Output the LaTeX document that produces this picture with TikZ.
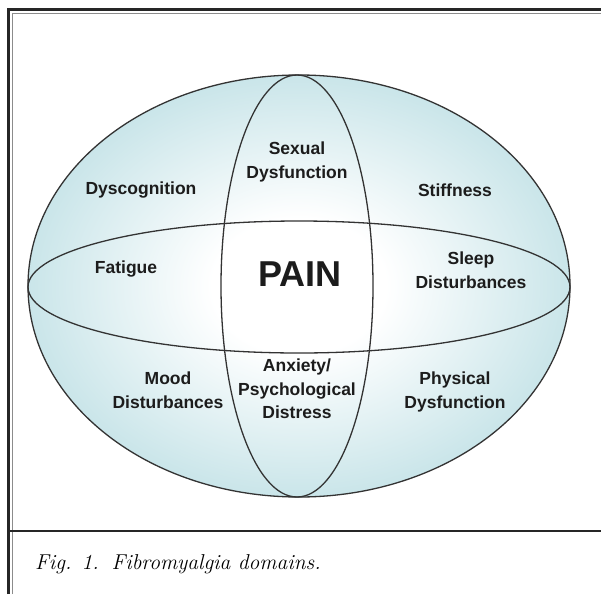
\documentclass[tikz,border=0pt]{standalone}
\usepackage{fontspec}
\newfontfamily\labfont{Liberation Sans}
\definecolor{tealA}{RGB}{164,211,218}
\definecolor{ink}{RGB}{28,28,28}
\pgfdeclareradialshading{domshade}{\pgfpoint{0bp}{0bp}}{color(0bp)=(white); color(8bp)=(white); color(37bp)=(tealA); color(50bp)=(tealA); color(80bp)=(tealA)}
\begin{document}
\begin{tikzpicture}[x=1pt,y=-1pt,
  lbl/.style={font=\labfont\bfseries\fontsize{17.5}{23.5}\selectfont, text=ink, align=center, inner sep=0pt},
  ring/.style={draw=ink!90, line width=1.3pt},
  thickrule/.style={line width=2.8pt, draw=black!85},
  thinrule/.style={line width=1pt, draw=black!45}]
\useasboundingbox (0,0) rectangle (601,594);
\fill[white] (0,0) rectangle (601,594);
% frame
\draw[thickrule] (8.5,594) -- (8.5,9.5) -- (601,9.5);
\draw[thinrule] (12.5,594) -- (12.5,13.5) -- (601,13.5);
\draw[thickrule] (8.5,531) -- (601,531);
% sphere
\path[shading=domshade] (299,286) ellipse [x radius=271, y radius=211];
\draw[ring] (299,286) ellipse [x radius=271, y radius=211];
\draw[ring] (299,287) ellipse [x radius=271, y radius=66];
\draw[ring] (297,286) ellipse [x radius=76, y radius=211];
% labels
\node[lbl, font=\labfont\bfseries\fontsize{36}{40}\selectfont] (pain) at (300,274) {PAIN};
\node[lbl] (sex) at (297,162) {Sexual\\Dysfunction};
\node[lbl] (dys) at (141,190) {Dyscognition};
\node[lbl] (stiff) at (455,190) {Stiffness};
\node[lbl] (fat) at (126,269) {Fatigue};
\node[lbl] (sleep) at (471,270) {Sleep\\Disturbances};
\node[lbl] (mood) at (168,390) {Mood\\Disturbances};
\node[lbl] (anx) at (297,389) {Anxiety/\\Psychological\\Distress};
\node[lbl] (phys) at (455,392) {Physical\\Dysfunction};
% caption
\node[anchor=base west, inner sep=0pt, font=\itshape\fontsize{21.5}{24}\selectfont] (cap) at (35,569) {Fig. 1.\hspace{0.6em}Fibromyalgia domains.};
\end{tikzpicture}
\end{document}
